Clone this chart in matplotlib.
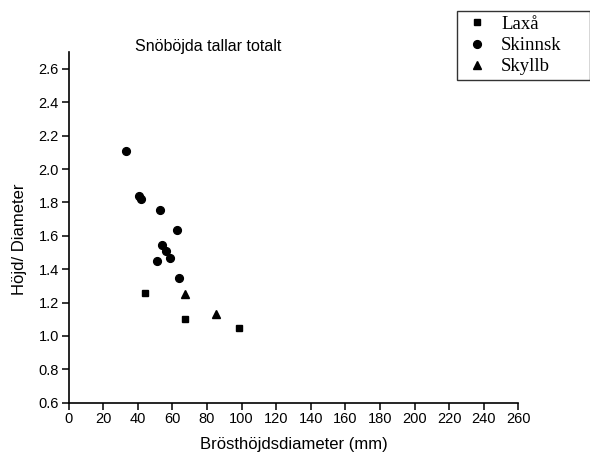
import matplotlib
matplotlib.use("Agg")
import matplotlib.pyplot as plt

plt.rcParams['font.family'] = ['Liberation Sans', 'DejaVu Sans']

# Data
laxa_x = [44.0, 67.3, 98.3]
laxa_y = [1.26, 1.10, 1.05]
skinnsk_x = [33.0, 40.9, 41.7, 52.7, 62.9, 54.1, 56.1, 58.5, 51.0, 64.0]
skinnsk_y = [2.106, 1.836, 1.822, 1.754, 1.636, 1.546, 1.512, 1.47, 1.45, 1.346]
skyllb_x = [67.2, 85.0]
skyllb_y = [1.25, 1.13]

x_ticks = list(range(0, 261, 20))
y_ticks = [0.6, 0.8, 1.0, 1.2, 1.4, 1.6, 1.8, 2.0, 2.2, 2.4, 2.6]

title = "Snöböjda tallar totalt"
xlabel = "Brösthöjdsdiameter (mm)"
ylabel = "Höjd/ Diameter"

fig = plt.figure(figsize=(5.9, 4.54), dpi=100)
ax = fig.add_axes([68.7 / 590, 1 - 402.7 / 454, (518.3 - 68.7) / 590, (402.7 - 52.3) / 454])

h1, = ax.plot(laxa_x, laxa_y, linestyle='none', marker='s', color='black', markersize=5)
h2, = ax.plot(skinnsk_x, skinnsk_y, linestyle='none', marker='o', color='black', markersize=5.6)
h3, = ax.plot(skyllb_x, skyllb_y, linestyle='none', marker='^', color='black', markersize=6)

ax.set_xlim(0, 260)
ax.set_ylim(0.6, 2.7)
ax.set_xticks(x_ticks)
ax.set_yticks(y_ticks)
ax.set_yticklabels([f"{v:.1f}" for v in y_ticks])
ax.spines['top'].set_visible(False)
ax.spines['right'].set_visible(False)
for s in ('left', 'bottom'):
    ax.spines[s].set_linewidth(1.2)
ax.tick_params(direction='out', length=5, width=1.1, labelsize=10.5, pad=2)

fig.text(293.5 / 590, 1 - 445 / 454, xlabel, ha='center', va='center', fontsize=12)
fig.text(20 / 590, 1 - 239 / 454, ylabel, ha='center', va='center', rotation=90, fontsize=12)
fig.text(208 / 590, 1 - 46 / 454, title, ha='center', va='center', fontsize=11.5)

leg = fig.legend([h1, h2, h3], ["Laxå", "Skinnsk", "Skyllb"],
                 loc='upper left', mode='expand',
                 bbox_to_anchor=(457 / 590, 1 - 81 / 454, (589.5 - 457) / 590, 70 / 454),
                 bbox_transform=fig.transFigure, borderaxespad=0,
                 prop={'family': 'Liberation Serif', 'size': 13.5},
                 frameon=True, fancybox=False, edgecolor='black',
                 handlelength=1.6, handletextpad=0.5, borderpad=0.25,
                 labelspacing=0.22)
leg.get_frame().set_linewidth(1.0)
leg.get_frame().set_boxstyle('square', pad=0)

fig.savefig("out.png", dpi=100)
